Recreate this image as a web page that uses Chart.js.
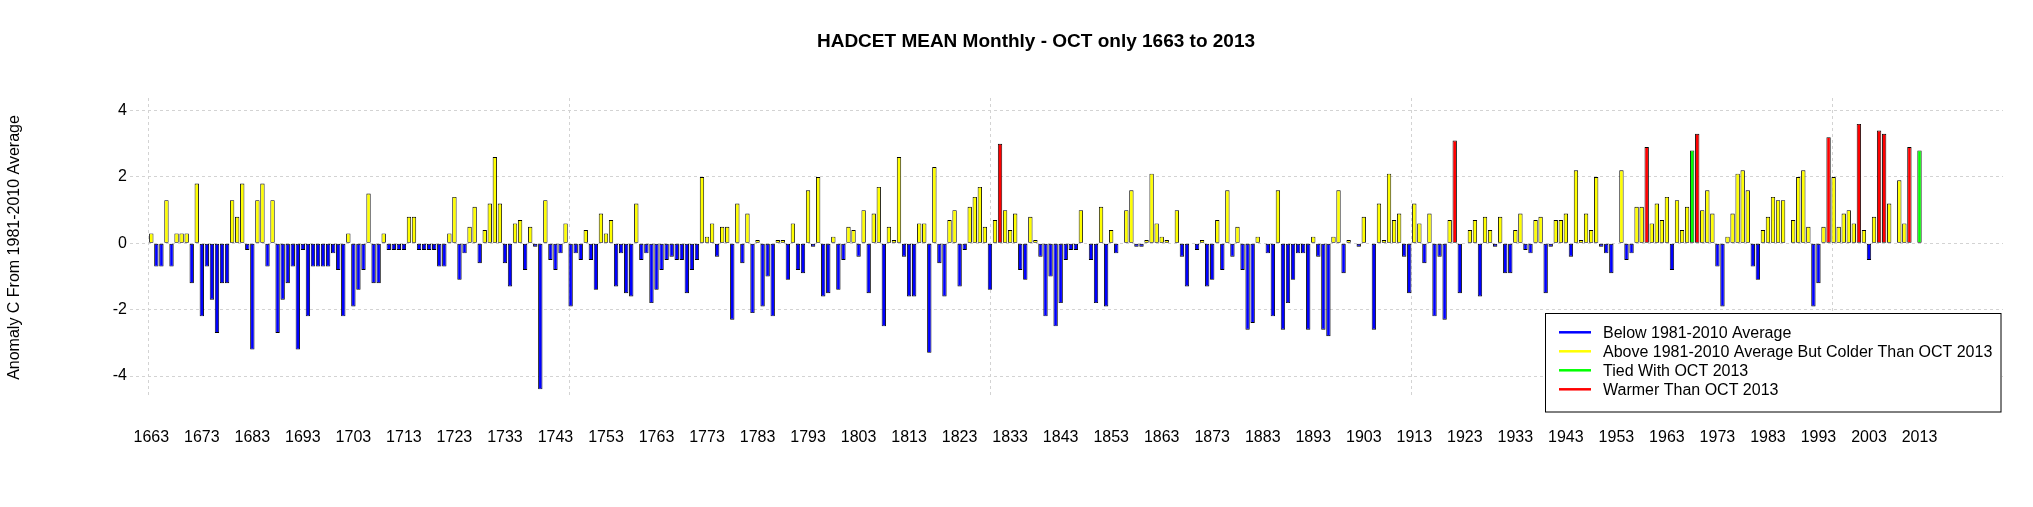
<!DOCTYPE html>
<html><head><meta charset="utf-8">
<script src="https://cdn.jsdelivr.net/npm/chart.js@4/dist/chart.umd.min.js"></script>
<style>html,body{margin:0;padding:0;background:#fff;}#wrap{width:2033px;height:507px;position:relative;}</style>
</head><body><div id="wrap"><canvas id="c"></canvas></div>
<script>
// ---- DATA ----
const startYear = 1663;
const endYear = 2013;
const anom1663 = [0.3,-0.7,-0.7,1.3,-0.7,0.3,0.3,0.3,-1.2,1.8,-2.2,-0.7,-1.7,-2.7,-1.2,-1.2,1.3,0.8,1.8,-0.2,-3.2,1.3,1.8,-0.7,1.3,-2.7,-1.7,-1.2,-0.7,-3.2,-0.2,-2.2,-0.7,-0.7,-0.7,-0.7,-0.3,-0.8,-2.2,0.3,-1.9,-1.4,-0.8,1.5,-1.2,-1.2,0.3,-0.2,-0.2,-0.2];
const anom1713 = [-0.2,0.8,0.8,-0.2,-0.2,-0.2,-0.2,-0.7,-0.7,0.3,1.4,-1.1,-0.3,0.5,1.1,-0.6,0.4,1.2,2.6,1.2,-0.6,-1.3,0.6,0.7,-0.8,0.5,-0.1,-4.4,1.3,-0.5,-0.8,-0.3,0.6,-1.9,-0.3,-0.5,0.4,-0.5,-1.4,0.9,0.3,0.7,-1.3,-0.3,-1.5,-1.6,1.2,-0.5,-0.3,-1.8];
const anom1763 = [-1.4,-0.8,-0.5,-0.4,-0.5,-0.5,-1.5,-0.8,-0.5,2.0,0.2,0.6,-0.4,0.5,0.5,-2.3,1.2,-0.6,0.9,-2.1,0.1,-1.9,-1.0,-2.2,0.1,0.1,-1.1,0.6,-0.8,-0.9,1.6,-0.1,2.0,-1.6,-1.5,0.2,-1.4,-0.5,0.5,0.4,-0.4,1.0,-1.5,0.9,1.7,-2.5,0.5,0.1,2.6,-0.4];
const anom1813 = [-1.6,-1.6,0.6,0.6,-3.3,2.3,-0.6,-1.6,0.7,1.0,-1.3,-0.2,1.1,1.4,1.7,0.5,-1.4,0.7,3.0,1.0,0.4,0.9,-0.8,-1.1,0.8,0.1,-0.4,-2.2,-1.0,-2.5,-1.8,-0.5,-0.2,-0.2,1.0,0,-0.5,-1.8,1.1,-1.9,0.4,-0.3,0,1.0,1.6,-0.1,-0.1,0.1,2.1,0.6];
const anom1863 = [0.2,0.1,0,1.0,-0.4,-1.3,0,-0.2,0.1,-1.3,-1.1,0.7,-0.8,1.6,-0.4,0.5,-0.8,-2.6,-2.4,0.2,0,-0.3,-2.2,1.6,-2.6,-1.8,-1.1,-0.3,-0.3,-2.6,0.2,-0.4,-2.6,-2.8,0.2,1.6,-0.9,0.1,0,-0.1,0.8,0,-2.6,1.2,0.1,2.1,0.7,0.9,-0.4,-1.5];
const anom1913 = [1.2,0.6,-0.6,0.9,-2.2,-0.4,-2.3,0.7,3.1,-1.5,0,0.4,0.7,-1.6,0.8,0.4,-0.1,0.8,-0.9,-0.9,0.4,0.9,-0.2,-0.3,0.7,0.8,-1.5,-0.1,0.7,0.7,0.9,-0.4,2.2,0.1,0.9,0.4,2.0,-0.1,-0.3,-0.9,0,2.2,-0.5,-0.3,1.1,1.1,2.9,0.6,1.2,0.7];
const anom1963 = [1.4,-0.8,1.3,0.4,1.1,2.8,3.3,1.0,1.6,0.9,-0.7,-1.9,0.2,0.9,2.1,2.2,1.6,-0.7,-1.1,0.4,0.8,1.4,1.3,1.3,0,0.7,2.0,2.2,0.5,-1.9,-1.2,0.5,3.2,2.0,0.5,0.9,1.0,0.6,3.6,0.4,-0.5,0.8,3.4,3.3,1.2,0,1.9,0.6,2.9,0,2.8];
const anomalies = [].concat(anom1663, anom1713, anom1763, anom1813, anom1863, anom1913, anom1963);
const years = anomalies.map((_, i) => startYear + i);
const tickYears = years.filter(y => (y - startYear) % 10 === 0);
const yTicks = [4, 2, 0, -2, -4];
const legendLabels = ["Below 1981-2010 Average","Above 1981-2010 Average But Colder Than OCT 2013","Tied With OCT 2013","Warmer Than OCT 2013"];
const legendColors = ["#0000FF","#FFFF00","#00FF00","#FF0000"];
const titleText = "HADCET MEAN Monthly - OCT only 1663 to 2013";
const yTitle = "Anomaly C From 1981-2010 Average";

// ---- STYLE / LAYOUT ----
const FONT = "'Liberation Sans', Arial, sans-serif";
const W = 2033, H = 507;
const areaLeft = 130, areaRight = 2003, areaTop = 98, areaBottom = 397;
const pxPerYear = 5.052, firstBarPx = 151.3;
const xMin = startYear - (firstBarPx - areaLeft) / pxPerYear;
const xMax = startYear + (areaRight - firstBarPx) / pxPerYear;
const gridYears = [1662.41, 1745.74, 1829.07, 1912.40, 1995.74];
const ref = anomalies[anomalies.length - 1];
const barColor = v => v < 0 ? legendColors[0] : (v > ref ? legendColors[3] : (v === ref ? legendColors[2] : legendColors[1]));

const canvas = document.getElementById('c');
canvas.width = W; canvas.height = H;

const titlePlugin = {
  id: 'rTitle',
  afterDraw(chart) {
    const ctx = chart.ctx;
    ctx.save();
    ctx.font = "bold 19px " + FONT;
    ctx.fillStyle = '#000';
    ctx.textAlign = 'center';
    ctx.textBaseline = 'middle';
    ctx.fillText(titleText, 1036, 42);
    ctx.restore();
  }
};

const legendPlugin = {
  id: 'rLegend',
  afterDraw(chart) {
    const ctx = chart.ctx;
    const bx = 1545.5, by = 313.5, bw = 455.5, bh = 98.5;
    ctx.save();
    ctx.fillStyle = '#fff';
    ctx.fillRect(bx, by, bw, bh);
    ctx.strokeStyle = '#000'; ctx.lineWidth = 1;
    ctx.strokeRect(bx, by, bw, bh);
    ctx.font = "16px " + FONT;
    ctx.textBaseline = 'middle';
    legendLabels.forEach((t, i) => {
      const yy = 332.3 + i * 19;
      ctx.strokeStyle = legendColors[i]; ctx.lineWidth = 2.5;
      ctx.beginPath(); ctx.moveTo(1559, yy); ctx.lineTo(1591, yy); ctx.stroke();
      ctx.fillStyle = '#000';
      ctx.fillText(t, 1603, yy + 1);
    });
    ctx.restore();
  }
};

new Chart(canvas, {
  type: 'bar',
  data: {
    datasets: [{
      data: years.map((y, i) => ({ x: y, y: anomalies[i] })),
      backgroundColor: anomalies.map(barColor),
      borderColor: '#000',
      borderWidth: 0.9,
      borderSkipped: false,
      barPercentage: 0.86,
      categoryPercentage: 1,
      xAxisID: 'x'
    }]
  },
  options: {
    responsive: false,
    devicePixelRatio: 1,
    animation: false,
    events: [],
    layout: { padding: { left: 0, right: W - areaRight, top: areaTop, bottom: 0 } },
    plugins: {
      legend: { display: false },
      tooltip: { enabled: false },
      title: { display: false }
    },
    scales: {
      x: {
        type: 'linear', position: 'bottom', min: xMin, max: xMax, offset: false,
        grid: { display: false, drawTicks: false, offset: false },
        border: { display: false },
        afterBuildTicks: s => { s.ticks = tickYears.map(v => ({ value: v })); },
        afterFit: s => { s.height = H - areaBottom; },
        ticks: { color: '#000', font: { family: FONT, size: 16 }, padding: 31, maxRotation: 0, autoSkip: false, callback: v => String(v) }
      },
      xg: {
        type: 'linear', position: 'bottom', min: xMin, max: xMax, offset: false,
        grid: { display: true, offset: false, drawTicks: false, color: '#D3D3D3', lineWidth: 1 },
        border: { display: false, dash: [3, 3] },
        afterBuildTicks: s => { s.ticks = gridYears.map(v => ({ value: v })); },
        afterFit: s => { s.height = 0; },
        ticks: { display: false }
      },
      y: {
        type: 'linear', min: -4.63, max: 4.38,
        grid: { display: true, drawTicks: false, color: '#D3D3D3', lineWidth: 1 },
        border: { display: false, dash: [3, 3] },
        afterBuildTicks: s => { s.ticks = yTicks.map(v => ({ value: v })); },
        afterFit: s => { s.width = areaLeft; },
        ticks: { color: '#000', font: { family: FONT, size: 16 }, padding: 3, callback: v => String(v) },
        title: { display: true, text: yTitle, color: '#000', font: { family: FONT, size: 16 }, padding: { top: 5, bottom: 0 } }
      }
    }
  },
  plugins: [titlePlugin, legendPlugin]
});
</script></body></html>
